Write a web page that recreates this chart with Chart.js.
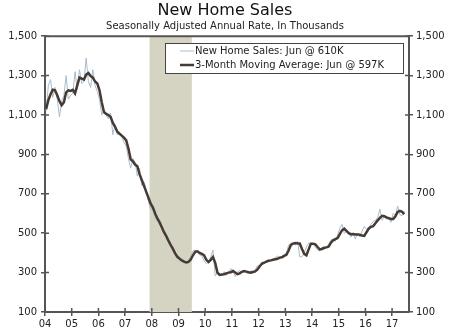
<!DOCTYPE html>
<html lang="en">
  <head>
    <meta charset="utf-8">
    <title>New Home Sales</title>
    <style>
      html, body { margin: 0; padding: 0; background: #fff; }
      #chart { display: block; }
    </style>
  </head>
  <body>
    <canvas id="chart" width="450" height="332"></canvas>

    <script src="https://cdn.jsdelivr.net/npm/chart.js@4.4.0/dist/chart.umd.min.js"></script>
    <script>
      // monthly, Jan 2004 - Jun 2017, SAAR in thousands
      const yearLabels = ['04', '05', '06', '07', '08', '09', '10', '11', '12', '13', '14', '15', '16', '17'];
      const monthlySales = [
        1120, 1250, 1280, 1190, 1240, 1180, 1090, 1170, 1200, 1300, 1180, 1200,
        1210, 1320, 1230, 1330, 1260, 1270, 1389, 1270, 1240, 1330, 1250, 1220,
        1180, 1100, 1120, 1100, 1080, 1110, 1000, 1050, 1000, 1010, 990, 960,
        940, 880, 830, 880, 860, 790, 830, 740, 760, 720, 660, 620,
        620, 580, 560, 560, 520, 500, 480, 450, 430, 410, 390, 370,
        360, 360, 350, 350, 360, 385, 410, 415, 400, 390, 385, 360,
        345, 355, 380, 414, 282, 300, 290, 285, 305, 285, 300, 320,
        310, 280, 305, 310, 300, 305, 300, 295, 310, 305, 315, 335,
        330, 355, 345, 360, 365, 360, 365, 375, 385, 370, 385, 390,
        400, 440, 450, 450, 440, 460, 380, 380, 400, 430, 450, 445,
        445, 430, 415, 410, 430, 420, 425, 445, 465, 470, 460, 490,
        525, 545, 500, 510, 500, 480, 500, 470, 500, 480, 510, 535,
        520, 530, 545, 560, 565, 580, 622, 565, 585, 570, 580, 555,
        600, 590, 638, 593, 590, 610
      ];
      const movingAverage = [
        1130, 1175, 1205, 1228, 1225, 1200, 1170, 1150, 1165, 1215, 1225, 1222,
        1228, 1210, 1250, 1290, 1285, 1280, 1305, 1313, 1298, 1290, 1270, 1260,
        1225, 1165, 1115, 1105, 1100, 1090, 1060, 1040, 1015, 1005, 995, 985,
        971, 930, 875, 865, 848, 840, 800, 770, 740, 710, 680, 650,
        630, 600, 575, 555, 530, 505, 485, 462, 440, 420, 398, 380,
        371, 362, 356, 352, 354, 366, 388, 405, 408, 400, 395, 388,
        365, 354, 365, 379, 350, 300, 288, 290, 292, 296, 300, 302,
        308, 300, 292, 296, 304, 308, 305, 302, 300, 303, 306, 316,
        332, 345, 350, 356, 360, 362, 365, 368, 370, 376, 378, 385,
        390, 412, 440, 447, 450, 448, 448, 420, 395, 388, 418, 447,
        447, 444, 430, 418, 420, 426, 428, 432, 452, 464, 470, 475,
        495, 515, 523, 512, 500, 495, 496, 494, 494, 492, 488, 486,
        505, 523, 532, 536, 550, 565, 578, 588, 586, 580, 576, 572,
        572, 586, 608, 613, 608, 597
      ];
      // recession: Dec 2007 through Jun 2009 (month index from Jan 2004)
      const recession = [47, 66];
      const legendLabels = ['New Home Sales: Jun @ 610K', '3-Month Moving Average: Jun @ 597K'];

      const FONT = 'DejaVu Sans, Verdana, sans-serif';
      const AXIS = '#555555';
      const BLUE = '#a7bccf';
      const DARK = '#463a32';

      const toPoints = arr => arr.map((v, i) => ({ x: i + 0.5, y: v }));
      const isYear = v => Math.abs(v / 12 - Math.round(v / 12)) < 1e-6;

      // shaded recession band + top frame + inward half of the cross ticks + legend
      const framePlugin = {
        id: 'frame',
        beforeDatasetsDraw(chart) {
          const { ctx, chartArea: a, scales: { x } } = chart;
          const x0 = x.getPixelForValue(recession[0]);
          const x1 = x.getPixelForValue(recession[1]);
          ctx.save();
          ctx.fillStyle = '#d5d4c3';
          ctx.fillRect(x0, a.top, x1 - x0, a.bottom - a.top);
          ctx.restore();
        },
        afterDraw(chart) {
          const { ctx, chartArea: a, scales: { x, y } } = chart;
          ctx.save();
          ctx.strokeStyle = AXIS;
          ctx.lineWidth = 2;
          ctx.beginPath();
          ctx.moveTo(a.left - 1, a.top);
          ctx.lineTo(a.right + 1, a.top);
          ctx.stroke();
          ctx.lineWidth = 1.5;
          ctx.beginPath();
          x.ticks.forEach(t => {
            const px = x.getPixelForValue(t.value);
            ctx.moveTo(px, a.bottom);
            ctx.lineTo(px, a.bottom - 4);
          });
          y.ticks.forEach(t => {
            const py = y.getPixelForValue(t.value);
            ctx.moveTo(a.left, py);
            ctx.lineTo(a.left + 4, py);
            ctx.moveTo(a.right, py);
            ctx.lineTo(a.right - 4, py);
          });
          ctx.stroke();

          // legend box
          const lx = 165, ly = 43, lw = 238, lh = 30;
          ctx.fillStyle = '#ffffff';
          ctx.fillRect(lx, ly, lw, lh);
          ctx.strokeStyle = '#444444';
          ctx.lineWidth = 1;
          ctx.strokeRect(lx + 0.5, ly + 0.5, lw, lh);
          const rows = [
            { c: BLUE, w: 1, yy: ly + 8 },
            { c: DARK, w: 2.5, yy: ly + 22 }
          ];
          ctx.font = '10px ' + FONT;
          ctx.textBaseline = 'middle';
          rows.forEach((r, i) => {
            ctx.strokeStyle = r.c;
            ctx.lineWidth = r.w;
            ctx.beginPath();
            ctx.moveTo(lx + 15, r.yy);
            ctx.lineTo(lx + 29, r.yy);
            ctx.stroke();
            ctx.fillStyle = '#222222';
            ctx.fillText(legendLabels[i], lx + 30, r.yy + 0.5);
          });
          ctx.restore();
        }
      };

      const yTicks = {
        stepSize: 200,
        color: '#222',
        font: { family: FONT, size: 10 },
        callback: v => v.toLocaleString('en-US')
      };

      new Chart(document.getElementById('chart'), {
        type: 'line',
        data: {
          datasets: [
            {
              label: legendLabels[1],
              data: toPoints(movingAverage),
              borderColor: DARK,
              borderWidth: 2.5,
              pointRadius: 0,
              tension: 0,
              order: 0
            },
            {
              label: legendLabels[0],
              data: toPoints(monthlySales),
              borderColor: BLUE,
              borderWidth: 1,
              pointRadius: 0,
              tension: 0,
              order: 1
            }
          ]
        },
        options: {
          responsive: false,
          animation: false,
          events: [],
          layout: { padding: 0 },
          plugins: {
            legend: { display: false },
            tooltip: { enabled: false },
            title: {
              display: true,
              text: 'New Home Sales',
              color: '#111',
              font: { family: FONT, size: 16, weight: 'normal' },
              padding: { top: 1, bottom: 0 }
            },
            subtitle: {
              display: true,
              text: 'Seasonally Adjusted Annual Rate, In Thousands',
              color: '#222',
              font: { family: FONT, size: 10 },
              padding: { top: 0, bottom: 4 }
            }
          },
          scales: {
            x: {
              type: 'linear',
              min: 0,
              max: 163.6,
              border: { color: AXIS, width: 2 },
              grid: { drawOnChartArea: false, color: AXIS, lineWidth: 1.5, tickLength: 4 },
              afterBuildTicks: s => {
                s.ticks = yearLabels.map((_, i) => ({ value: i * 12 }));
              },
              afterFit: s => { s.height = 20; },
              ticks: {
                stepSize: 12,
                autoSkip: false,
                maxRotation: 0,
                padding: 2,
                color: '#222',
                font: { family: FONT, size: 10 },
                callback: v => isYear(v) ? yearLabels[Math.round(v / 12)] : ''
              }
            },
            y: {
              position: 'left',
              min: 100,
              max: 1500,
              border: { color: AXIS, width: 2 },
              grid: { drawOnChartArea: false, color: AXIS, lineWidth: 1.5, tickLength: 4 },
              afterFit: s => { s.width = 45; },
              ticks: Object.assign({ padding: 4 }, yTicks)
            },
            y2: {
              position: 'right',
              min: 100,
              max: 1500,
              border: { color: AXIS, width: 2 },
              grid: { drawOnChartArea: false, color: AXIS, lineWidth: 1.5, tickLength: 4 },
              afterFit: s => { s.width = 41; },
              ticks: Object.assign({ padding: 3 }, yTicks)
            }
          }
        },
        plugins: [framePlugin]
      });
    </script>
  </body>
</html>
